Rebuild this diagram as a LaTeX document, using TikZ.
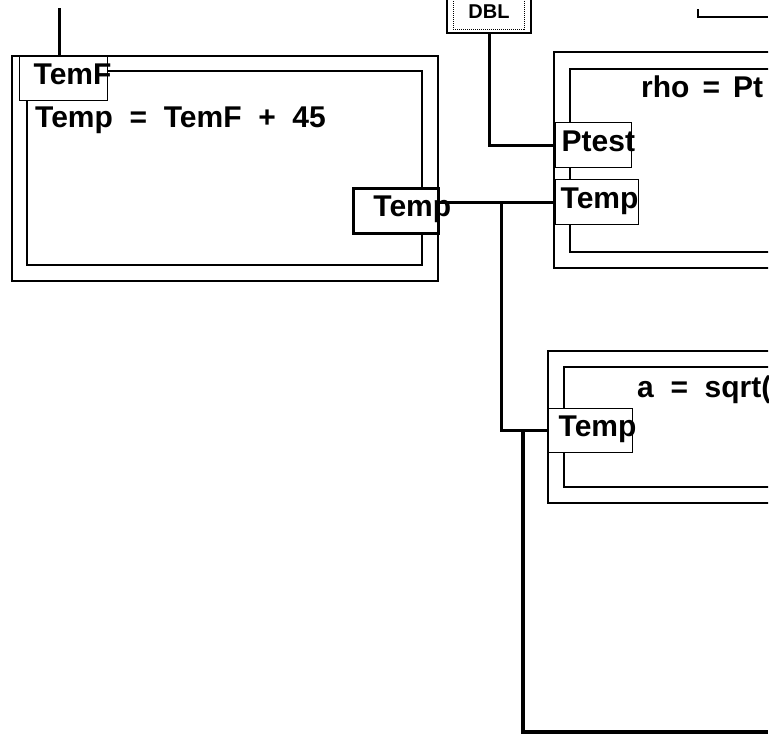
\documentclass[tikz,border=0pt]{standalone}
\usepackage{fontspec}
\setmainfont{Liberation Sans}

\begin{document}
\begin{tikzpicture}[
    x=1pt, y=-1pt,
    font=\fontsize{30}{36}\selectfont\bfseries,
    frame/.style={draw, line width=1.3pt, inner sep=0pt},
    tag/.style={draw, fill=white, line width=1.3pt, anchor=north west, align=left, text height=20pt, text depth=8pt, inner ysep=0pt},
    eqn/.style={anchor=base west, inner sep=0pt},
    wire/.style={line width=3pt},
  ]
    \useasboundingbox (0,0) rectangle (784,739);

    % left block
    \node[frame, minimum width=426pt, minimum height=225pt] (convout) at (225,168.5) {};
    \node[frame, minimum width=395pt, minimum height=194pt] (convin) at (224.5,168) {};
    \node[eqn] (conveq) at (35,127) {Temp\ \ =\ \ TemF\ \ +\ \ 45};
    \node[tag, minimum width=88pt, minimum height=44pt, inner xsep=14pt, text width=60pt] (temf) at (19,56) {TemF};
    \node[tag, minimum width=85pt, minimum height=45pt, inner xsep=20pt, text width=45pt, line width=2.8pt] (tout) at (352,187) {Temp};

    % right blocks, cut by the page edge
    \begin{scope}
      \clip (0,0) rectangle (768,739);
      \node[frame, minimum width=246pt, minimum height=216pt] (rhoout) at (677,160) {};
      \node[frame, minimum width=230pt, minimum height=183pt] (rhoin) at (685,160.5) {};
      \node[eqn] (rhoeq) at (641,97) {rho\hspace{13pt}=\hspace{13pt}Pt};
      \node[frame, minimum width=252pt, minimum height=152pt] (sosout) at (674,427) {};
      \node[frame, minimum width=236pt, minimum height=120pt] (sosin) at (682,427) {};
      \node[eqn] (soseq) at (637,397) {a\ \ =\ \ sqrt(};
    \end{scope}
    \node[tag, minimum width=76pt, minimum height=45pt, inner xsep=6pt, text width=64pt] (ptest) at (555,122) {Ptest};
    \node[tag, minimum width=83pt, minimum height=45pt, inner xsep=5pt, text width=73pt] (tin) at (555,179) {Temp};
    \node[tag, minimum width=84pt, minimum height=44pt, inner xsep=10pt, text width=64pt] (tin2) at (548,408) {Temp};

    % constant source
    \node[frame, minimum width=84pt, minimum height=42pt, font=\fontsize{20}{22}\selectfont\bfseries] (dbl) at (489,12) {DBL};
    \node[draw, densely dotted, line width=1pt, minimum width=71pt, minimum height=34pt] (dblin) at (488.5,12) {};

    % wires
    \coordinate (src) at (59,8);
    \coordinate (j1) at (501,202);
    \coordinate (j2) at (523,430);
    \coordinate (sink) at (768,732);
    \coordinate (cnr) at (698,9);
    \coordinate (cnrend) at (768,17);
    \draw[wire] (src) -- (src |- temf.north);
    \draw[wire] (dbl.south) |- (ptest.west);
    \draw[wire] (tout.east |- tin.west) -- (tin.west);
    \draw[wire] (j1) |- (tin2.west);
    \draw[wire, line width=3.6pt] (j2) |- (sink);
    \draw[line width=2.4pt] (cnr) |- (cnrend);
  \end{tikzpicture}
\end{document}
